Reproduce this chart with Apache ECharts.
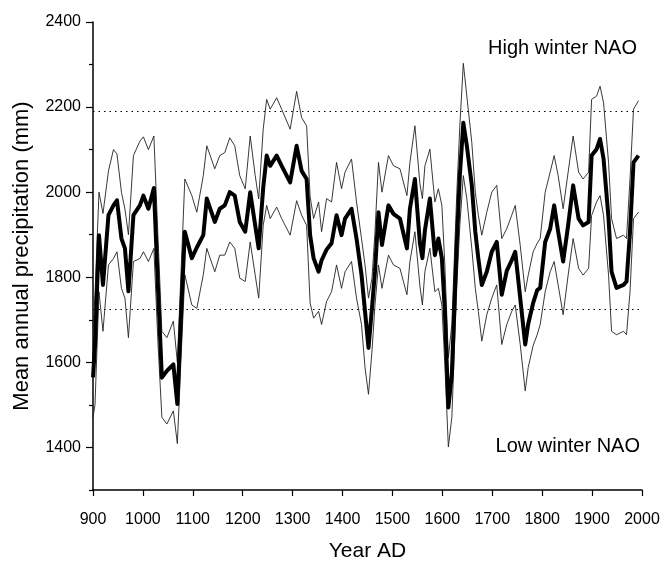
<!DOCTYPE html>
<html><head><meta charset="utf-8">
<script src="https://cdn.jsdelivr.net/npm/echarts@6/dist/echarts.min.js"></script>
<style>html,body{margin:0;padding:0;background:#fff}#c{width:663px;height:567px}</style>
</head><body><div id="c"></div>
<script>
const years = [
  900, 904, 912, 920, 931, 941, 948, 957, 964, 971, 981, 994, 1001, 1011, 1022, 1030, 1038, 1048, 1061, 1069, 1076, 1084, 1098, 1108,
  1121, 1128, 1144, 1154, 1164, 1174, 1184, 1194, 1205, 1215, 1225, 1232, 1241, 1248, 1255, 1268, 1278, 1295, 1308, 1318, 1328,
  1335, 1342, 1352, 1358, 1368, 1378, 1388, 1398, 1405, 1418, 1428, 1438, 1445, 1452, 1459, 1465, 1472, 1479, 1492, 1502, 1515, 1529, 1535, 1545, 1555, 1560, 1565,
  1575, 1585, 1592, 1599, 1605, 1612, 1619, 1629, 1635, 1642, 1649, 1659, 1666, 1672, 1679, 1689, 1699, 1709, 1719, 1729, 1739, 1746, 1756, 1766, 1772, 1782,
  1790, 1796, 1806, 1816, 1824, 1832, 1842, 1852, 1862, 1873, 1882, 1893, 1899, 1909, 1916, 1923, 1933, 1939, 1949, 1963, 1969, 1976, 1983, 1993
];
// Mean annual precipitation (mm), thick curve
const meanPrecip = [
  1565, 1640, 1899, 1782, 1946, 1969, 1981, 1891, 1868, 1767, 1946, 1969, 1992, 1961, 2010, 1780, 1564, 1580, 1595, 1502, 1700, 1907, 1845, 1870,
  1899, 1985, 1930, 1961, 1969, 2000, 1992, 1930, 1907, 2000, 1922, 1868, 2010, 2086, 2062, 2086, 2062, 2023, 2109, 2050, 2031,
  1899, 1845, 1813, 1840, 1865, 1880, 1946, 1899, 1938, 1961, 1891, 1806, 1720, 1634, 1728, 1813, 1953, 1876, 1969, 1949, 1938, 1868, 1961, 2031, 1880, 1845, 1910,
  1985, 1852, 1891, 1845, 1720, 1494, 1572, 1883, 2039, 2163, 2109, 2016, 1907, 1845, 1782, 1813, 1860, 1883, 1759, 1815, 1840, 1860, 1751, 1642, 1690, 1740,
  1770, 1775, 1883, 1914, 1969, 1907, 1837, 1922, 2016, 1938, 1922, 1930, 2086, 2101, 2125, 2078, 1938, 1813, 1775, 1782, 1790, 1907, 2070, 2086
];
// Upper thin curve
const upperBound = [
  1680, 1760, 2000, 1950, 2050, 2100, 2090, 2000, 1960, 1900, 2086, 2120, 2130, 2100, 2132, 1900, 1673, 1658, 1697, 1600, 1800, 2031, 1992, 1953,
  2039, 2109, 2055, 2086, 2093, 2128, 2109, 2039, 2008, 2132, 2039, 1984, 2148, 2218, 2195, 2222, 2195, 2148, 2237, 2175, 2156,
  1990, 1938, 1977, 1907, 1985, 1977, 2070, 2008, 2047, 2078, 1977, 1891, 1829, 1751, 1798, 1907, 2070, 2000, 2086, 2062, 2055, 1992, 2070, 2156, 2020, 1985, 2062,
  2101, 1977, 2008, 1969, 1829, 1611, 1689, 2000, 2156, 2303, 2226, 2117, 2000, 1946, 1899, 1953, 2000, 2016, 1891, 1914, 1946, 1969, 1875, 1766, 1805, 1860,
  1880, 1891, 2000, 2047, 2086, 2039, 1961, 2047, 2132, 2047, 2031, 2047, 2218, 2226, 2249, 2210, 2070, 1938, 1891, 1899, 1891, 2031, 2195, 2215
];
// Lower thin curve
const lowerBound = [
  1471, 1500, 1766, 1673, 1829, 1844, 1860, 1774, 1751, 1658, 1837, 1844, 1860, 1837, 1868, 1650, 1471, 1455, 1486, 1409, 1600, 1806, 1735, 1727,
  1806, 1868, 1813, 1852, 1852, 1883, 1868, 1798, 1790, 1883, 1805, 1751, 1922, 1969, 1938, 1965, 1938, 1899, 1980, 1946, 1922,
  1740, 1704, 1720, 1689, 1743, 1766, 1829, 1774, 1813, 1837, 1751, 1689, 1588, 1525, 1627, 1735, 1829, 1774, 1852, 1829, 1821, 1759, 1837, 1907, 1780, 1735, 1813,
  1868, 1766, 1774, 1735, 1595, 1401, 1471, 1782, 1922, 2039, 1985, 1868, 1774, 1720, 1650, 1712, 1751, 1782, 1642, 1689, 1720, 1735, 1642, 1533, 1588, 1640,
  1665, 1689, 1766, 1813, 1837, 1782, 1712, 1805, 1891, 1821, 1805, 1821, 1945, 1977, 1992, 1945, 1805, 1673, 1665, 1673, 1665, 1766, 1938, 1953
];
// Dotted threshold levels
const refLevels = [2190, 1725];
// Axis ticks
const yMajorTicks = [1400, 1600, 1800, 2000, 2200, 2400];
const yMinorTicks = [1300, 1500, 1700, 1900, 2100, 2300];
const xRange = [900, 2000];
const yRange = [1300, 2400];
const highLabel = 'High winter NAO';
const lowLabel = 'Low winter NAO';

const FONT = "'Liberation Sans', Arial, sans-serif";
const pairs = arr => years.map((y, i) => [y, arr[i]]);
const plain = v => String(v);

const chart = echarts.init(document.getElementById('c'), null, {renderer: 'canvas'});
chart.setOption({
  animation: false,
  backgroundColor: '#fff',
  textStyle: {fontFamily: FONT, color: '#000'},
  title: [
    {text: highLabel, right: 21, top: 33, textStyle: {fontFamily: FONT, fontSize: 20, fontWeight: 'normal', color: '#000'}},
    {text: lowLabel, right: 18, top: 431, textStyle: {fontFamily: FONT, fontSize: 20, fontWeight: 'normal', color: '#000'}}
  ],
  grid: {left: 93, top: 22, right: 21, bottom: 74, containLabel: false},
  xAxis: {
    type: 'value', min: xRange[0], max: xRange[1], interval: 100,
    name: 'Year AD', nameLocation: 'middle', nameGap: 51,
    nameTextStyle: {fontFamily: FONT, fontSize: 21, color: '#000'},
    axisLine: {show: true, onZero: false, lineStyle: {color: '#000', width: 1.5}},
    axisTick: {show: true, length: 6, lineStyle: {color: '#000', width: 1.2}},
    axisLabel: {margin: 22, fontSize: 16, color: '#000', fontFamily: FONT, formatter: plain},
    splitLine: {show: false}
  },
  yAxis: [{
    type: 'value', min: yRange[0], max: yRange[1], position: 'left',
    name: 'Mean annual precipitation (mm)', nameLocation: 'middle', nameGap: 60,
    nameTextStyle: {fontFamily: FONT, fontSize: 22, color: '#000'},
    axisLine: {show: true, onZero: false, lineStyle: {color: '#000', width: 1.5}},
    axisTick: {show: true, length: 7, customValues: yMajorTicks, lineStyle: {color: '#000', width: 1.2}},
    axisLabel: {customValues: yMajorTicks, margin: 12, fontSize: 16, color: '#000', fontFamily: FONT, formatter: plain},
    splitLine: {show: false}
  }, {
    type: 'value', min: yRange[0], max: yRange[1], position: 'left',
    axisLine: {show: false},
    axisTick: {show: true, length: 4, customValues: yMinorTicks, lineStyle: {color: '#000', width: 1.2}},
    axisLabel: {show: false},
    splitLine: {show: false}
  }],
  series: [
    {type: 'line', data: pairs(upperBound), showSymbol: false, lineStyle: {color: '#222', width: 0.9}, z: 2},
    {type: 'line', data: pairs(lowerBound), showSymbol: false, lineStyle: {color: '#222', width: 0.9}, z: 2},
    {type: 'line', data: pairs(meanPrecip), showSymbol: false, lineStyle: {color: '#000', width: 4, join: 'round'}, z: 3,
     markLine: {silent: true, symbol: 'none', label: {show: false},
       lineStyle: {color: '#000', type: [1.5, 4], width: 1},
       data: refLevels.map(v => ({yAxis: v}))}}
  ]
});
</script>
</body></html>
